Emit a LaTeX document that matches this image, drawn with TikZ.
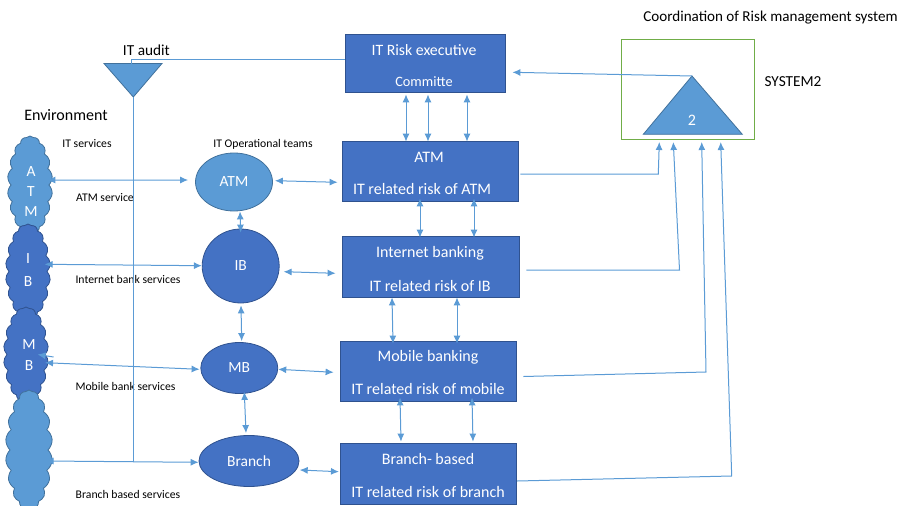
\documentclass[tikz,border=0pt]{standalone}
\usepackage{fontspec}
\setmainfont{Carlito}
\usetikzlibrary{arrows.meta,shapes.symbols,shapes.geometric,calc}
\definecolor{darkfill}{HTML}{4472C4}
\definecolor{darkedge}{HTML}{2F528F}
\definecolor{lightfill}{HTML}{5B9BD5}
\definecolor{lightedge}{HTML}{41719C}
\definecolor{wireblue}{HTML}{5B9BD5}
\definecolor{framegreen}{HTML}{70AD47}

\begin{document}
\begin{tikzpicture}[x=1pt,y=-1pt,
  riskbox/.style={draw=darkedge, fill=darkfill, line width=0.8pt, inner sep=0pt},
  boxtext/.style={text=white, inner sep=0pt, font=\fontsize{16}{19}\selectfont},
  team/.style={ellipse, draw=darkedge, fill=darkfill, line width=0.8pt, inner sep=0pt,
    text=white, font=\fontsize{15.5}{18}\selectfont},
  envcloud/.style={cloud, cloud puffs=18, cloud puff arc=100, cloud ignores aspect,
    draw=darkedge, fill=darkfill, line width=0.8pt, inner sep=0pt},
  lighttone/.style={fill=lightfill, draw=lightedge},
  wire/.style={draw=wireblue, line width=1pt},
  twoway/.style={wire, {Latex[length=8pt,width=7pt]}-{Latex[length=8pt,width=7pt]}},
  oneway/.style={wire, -{Latex[length=8pt,width=7pt]}},
  smalltext/.style={inner sep=0pt, font=\fontsize{11.7}{14}\selectfont},
  heading/.style={inner sep=0pt, font=\fontsize{15.3}{18}\selectfont},
]
\useasboundingbox (0,0) rectangle (921,506);

% ---------- headings and service labels ----------
\node[heading, font=\fontsize{15.1}{18}\selectfont] (title) at (770.5,18) {Coordination of Risk management system};
\node[heading] (sysname) at (793,82) {SYSTEM2};
\node[heading] (auditname) at (146.4,50) {IT audit};
\node[heading, font=\fontsize{16}{19}\selectfont] (envname) at (66,115) {Environment};
\node[smalltext] (itsrv) at (87,144) {IT services};
\node[smalltext] (atmsrv) at (105,198) {ATM service};
\node[smalltext] (ibsrv) at (128,279) {Internet bank services};
\node[smalltext] (mbsrv) at (125.5,386) {Mobile bank services};
\node[smalltext] (brsrv) at (128,494) {Branch based services};
\node[smalltext] (opteams) at (263,144) {IT Operational teams};

% ---------- environment clouds ----------
\node[envcloud, lighttone, minimum width=45, minimum height=98] (atmC) at (30,185) {};
\node[envcloud, minimum width=45, minimum height=95] (ibC) at (28,271.5) {};
\node[envcloud, minimum width=45, minimum height=95] (mbC) at (26,354.5) {};
\node[envcloud, lighttone, minimum width=47, minimum height=120] (bC) at (29,450) {};
\node[boxtext, align=center, font=\fontsize{15.5}{20}\selectfont] (atmL) at (31,192) {A\\T\\M};
\node[boxtext, align=center, font=\fontsize{15.5}{23}\selectfont] (ibL) at (28,270.5) {I\\B};
\node[boxtext, align=center, font=\fontsize{15.5}{21}\selectfont] (mbL) at (29,355.5) {M\\B};

% ---------- operational teams ----------
\node[team, lighttone, minimum width=77, minimum height=58] (atmE) at (234,182) {ATM};
\node[team, minimum width=77, minimum height=74] (ibE) at (240.7,266) {IB};
\node[team, minimum width=77, minimum height=51] (mbE) at (239.3,368) {MB};
\node[team, minimum width=100, minimum height=51] (brE) at (249,461) {Branch};

% ---------- risk boxes ----------
\node[riskbox, minimum width=160, minimum height=58] (exec) at (425,63) {};
\node[boxtext, font=\fontsize{15.8}{18}\selectfont] (execT1) at (424,50) {IT Risk executive};
\node[boxtext, font=\fontsize{14.3}{17}\selectfont] (execT2) at (424,82) {Committe};

\node[riskbox, minimum width=176, minimum height=60] (atm) at (430,171) {};
\node[boxtext] (atmT1) at (429,157) {ATM};
\node[boxtext] (atmT2) at (422,189) {IT related risk of ATM};

\node[riskbox, minimum width=177, minimum height=61] (ib) at (430.5,266.5) {};
\node[boxtext] (ibT1) at (430,253) {Internet banking};
\node[boxtext] (ibT2) at (430,286) {IT related risk of IB};

\node[riskbox, minimum width=176, minimum height=60] (mb) at (428,371) {};
\node[boxtext] (mbT1) at (428,357) {Mobile banking};
\node[boxtext] (mbT2) at (428,389) {IT related risk of mobile};

\node[riskbox, minimum width=176, minimum height=61] (br) at (428,473.5) {};
\node[boxtext] (brT1) at (428,459) {Branch- based};
\node[boxtext] (brT2) at (428,492) {IT related risk of branch};

% ---------- IT audit triangle and its lines ----------
\coordinate (auditL) at (104,63.5);
\coordinate (auditR) at (162,63.5);
\coordinate (auditTip) at (133.3,97);
\coordinate (auditTop) at (131.7,63.5);
\coordinate (auditCorner) at (131.7,59.3);
\coordinate (auditFoot) at (133.3,462);
\draw[lighttone, line width=0.8pt] (auditL) -- (auditR) -- (auditTip) -- cycle;
\draw[wire, line width=0.8pt] ($(exec.west)+(0,-3.7)$) -- (auditCorner) -- (auditTop);
\draw[wire, line width=0.8pt] (auditTip) -- (auditFoot);

% ---------- coordination system ----------
\node[draw=framegreen, line width=1pt, minimum width=133, minimum height=100, inner sep=0pt] (sys) at (688,89.5) {};
\coordinate (sysApex) at (692,76);
\coordinate (sysL) at (643.3,134.3);
\coordinate (sysR) at (742.3,134.3);
\draw[lighttone, line width=0.8pt] (sysL) -- (sysApex) -- (sysR) -- cycle;
\node[boxtext] (sysNum) at (692,120) {2};
\draw[oneway] (sysApex) -- ($(exec.east)+(7,9.3)$);

% ---------- committee <-> ATM risk ----------
\draw[twoway] ($(exec.south)+(-19,2)$) -- ($(atm.north)+(-24,1)$);
\draw[twoway] ($(exec.south)+(3,2)$) -- ($(atm.north)+(-2,1)$);
\draw[twoway] ($(exec.south)+(42,2)$) -- ($(atm.north)+(37,1)$);

% ---------- risk box chain ----------
\draw[twoway] ($(atm.south)+(-10,-3)$) -- ($(ib.north)+(-10.5,2)$);
\draw[twoway] ($(atm.south)+(44,-3)$) -- ($(ib.north)+(43.5,2)$);
\draw[twoway] ($(ib.south)+(-38.5,0)$) -- ($(mb.north)+(-35,3)$);
\draw[twoway] ($(ib.south)+(26.5,0)$) -- ($(mb.north)+(29,3)$);
\draw[twoway] ($(mb.south)+(-28,-4)$) -- ($(br.north)+(-27,-1)$);
\draw[twoway] ($(mb.south)+(44,-4)$) -- ($(br.north)+(45,-1)$);

% ---------- team chain ----------
\draw[twoway] ($(atmE.south)+(6,0)$) -- ($(ibE.north)+(0,4)$);
\draw[twoway] ($(ibE.south)+(0.3,2)$) -- ($(mbE.north)+(2.4,-1)$);
\draw[twoway] ($(mbE.south)+(5,-2)$) -- ($(brE.north)+(-3,-2)$);

% ---------- teams <-> risk boxes ----------
\draw[twoway] ($(atmE.east)+(2,-1.3)$) -- ($(atm.west)+(-4,11.3)$);
\draw[twoway] ($(ibE.east)+(4,5.7)$) -- ($(ib.west)+(-6,6.8)$);
\draw[twoway] ($(mbE.east)+(0,1.3)$) -- ($(mb.west)+(-6,1.3)$);
\draw[twoway] ($(brE.east)+(0.3,9)$) -- ($(br.west)+(-0.7,-1.8)$);

% ---------- environment <-> teams ----------
\draw[twoway] ($(atmC.east)+(-2,-5)$) -- ($(atmE.west)+(-7,-2)$);
\draw[twoway] ($(ibC.east)+(-3,-7.2)$) -- ($(ibE.west)+(0,-0.3)$);
\draw[twoway] ($(mbC.east)+(-0.5,8.2)$) -- ($(mbE.west)+(-0.8,1.3)$);
\draw[oneway] ($(mbC.east)+(8,2.5)$) -- ($(mbC.east)+(-8,0)$);
\draw[twoway] ($(bC.east)+(-3,11)$) -- ($(brE.west)+(0,1.3)$);

% ---------- risk boxes -> coordination system ----------
\coordinate (bendA) at (658.3,174);
\coordinate (inA) at (659.3,142);
\coordinate (bendB) at (679.5,270);
\coordinate (inB) at (673.3,142);
\coordinate (bendC) at (706,372);
\coordinate (inC) at (701.7,142);
\coordinate (bendD) at (731.7,476);
\coordinate (inD) at (720.7,142);
\draw[oneway] ($(atm.east)+(2,3)$) -- (bendA) -- (inA);
\draw[oneway] ($(ib.east)+(7,3.5)$) -- (bendB) -- (inB);
\draw[oneway] ($(mb.east)+(7,5.5)$) -- (bendC) -- (inC);
\draw[oneway] ($(br.east)+(0.7,7.5)$) -- (bendD) -- (inD);

\end{tikzpicture}
\end{document}
